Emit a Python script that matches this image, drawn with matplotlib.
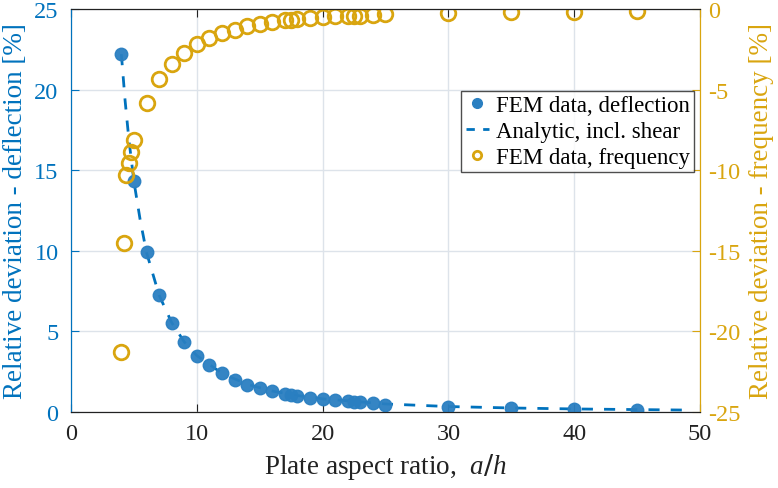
import matplotlib.pyplot as plt
import matplotlib as mpl
from matplotlib.lines import Line2D

mpl.rcParams['font.family'] = ['Liberation Serif', 'DejaVu Serif']
mpl.rcParams['mathtext.fontset'] = 'custom'
mpl.rcParams['mathtext.it'] = 'Liberation Serif:italic'

blue = '#0072BD'
gold = '#D9A50F'

# FEM data, deflection
x_defl = [4, 5, 6, 7, 8, 9, 10, 11, 12, 13, 14, 15, 16, 17, 17.5, 18, 19, 20,
          21, 22, 22.5, 23, 24, 25, 30, 35, 40, 45]
y_defl = [22.2, 14.3, 9.9, 7.25, 5.55, 4.35, 3.5, 2.9, 2.4, 2.0, 1.7, 1.48, 1.28,
          1.12, 1.06, 1.0, 0.9, 0.81, 0.73, 0.66, 0.63, 0.6, 0.53, 0.45, 0.3,
          0.24, 0.18, 0.13]

# Analytic curve, incl. shear
x_ana = [4, 4.3, 4.6, 5, 5.5, 6, 7, 8, 9, 10, 12, 14, 16, 18, 20, 25, 30, 35, 40, 45, 49]
y_ana = [22.2, 19.3, 16.9, 14.3, 11.9, 9.9, 7.25, 5.55, 4.35, 3.5, 2.4, 1.72, 1.3,
         1.02, 0.82, 0.5, 0.34, 0.25, 0.19, 0.15, 0.12]

# FEM data, frequency
x_freq = [4, 4.2, 4.4, 4.6, 4.8, 5, 6, 7, 8, 9, 10, 11, 12, 13, 14, 15, 16, 17,
          17.5, 18, 19, 20, 21, 22, 22.5, 23, 24, 25, 30, 35, 40, 45]
y_freq = [-21.3, -14.5, -10.3, -9.55, -8.85, -8.1, -5.85, -4.35, -3.4, -2.73,
          -2.2, -1.82, -1.5, -1.3, -1.08, -0.95, -0.8, -0.7, -0.66, -0.64, -0.58,
          -0.52, -0.46, -0.41, -0.41, -0.41, -0.37, -0.33, -0.25, -0.2, -0.17, -0.15]

fig = plt.figure(figsize=(7.78, 4.89), dpi=100)
ax = fig.add_axes([0.0913, 0.1554, 0.8084, 0.8242])
ax2 = ax.twinx()

ax.plot(x_defl, y_defl, 'o', color='#2a7fc1', ms=9, alpha=0.95, zorder=3)
ax.plot(x_ana, y_ana, '--', color=blue, lw=2, dashes=(4, 4), zorder=2)
ax2.plot(x_freq, y_freq, 'o', mfc='none', mec=gold, ms=10.5, mew=2)

ax.set_xlim(0, 50)
ax.set_ylim(0, 25)
ax2.set_ylim(-25, 0)
ax.set_xticks([0, 10, 20, 30, 40, 50])
ax.set_yticks([0, 5, 10, 15, 20, 25])
ax2.set_yticks([-25, -20, -15, -10, -5, 0])
ax2.set_yticklabels(['-25', '-20', '-15', '-10', '-5', '0'])

ax.grid(True, color='#dde3ea', lw=1)
ax.set_axisbelow(True)

ax.tick_params(axis='x', direction='in', top=True, labelsize=17.5, colors='#222222',
               length=6, pad=8)
ax.tick_params(axis='y', direction='in', labelsize=17.5, colors=blue, length=6, pad=9)
ax2.tick_params(axis='y', direction='in', labelsize=17.5, colors=gold, length=6, pad=6)

for s in ['top', 'bottom']:
    ax2.spines[s].set_color('#222222')
ax2.spines['left'].set_color(blue)
ax2.spines['right'].set_color(gold)
ax.spines['left'].set_color(blue)
ax.spines['right'].set_color(gold)

ax.set_xlabel('Plate aspect ratio,  $\\mathit{a/h}$', fontsize=19.5, color='#222222', labelpad=5)
ax.set_ylabel('Relative deviation - deflection [%]', fontsize=19.5, color=blue, labelpad=4)
ax2.set_ylabel('Relative deviation - frequency [%]', fontsize=19.5, color=gold, labelpad=6)

handles = [
    Line2D([], [], ls='none', marker='o', color='#2a7fc1', ms=7),
    Line2D([], [], ls='--', color=blue, lw=2, dashes=(3, 3)),
    Line2D([], [], ls='none', marker='o', mfc='none', mec=gold, ms=6, mew=2),
]
labels = ['FEM data, deflection', 'Analytic, incl. shear', 'FEM data, frequency']
leg = ax2.legend(handles, labels, loc='upper right', bbox_to_anchor=(0.991, 0.797),
                 fontsize=16.5, frameon=True, fancybox=False, handlelength=1.0,
                 handletextpad=0.3, borderpad=0.2, labelspacing=0.2, borderaxespad=0)
leg.get_frame().set_edgecolor('#222222')
leg.get_frame().set_linewidth(1)

plt.savefig('out.png', dpi=100)
